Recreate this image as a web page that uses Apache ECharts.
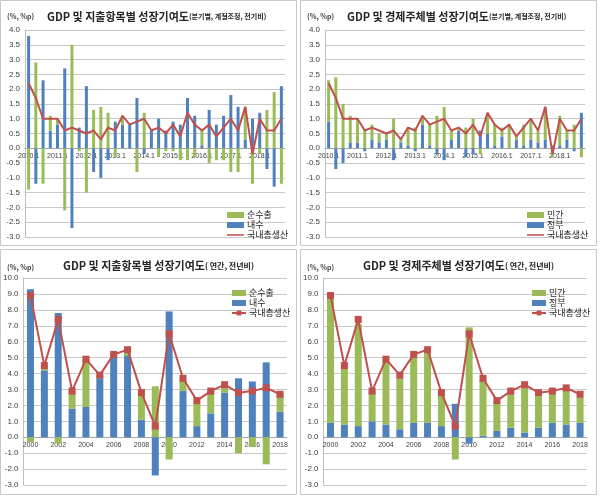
<!DOCTYPE html>
<html>
<head>
<meta charset="utf-8">
<script src="https://cdn.jsdelivr.net/npm/echarts@6/dist/echarts.min.js"></script>
<style>
    body { margin: 0; background: #fff; }
    .panel { position: absolute; width: 298px; height: 247px; }
</style>
</head>
<body>
<div class="panel" id="c1" style="left:0;top:0"></div>
<div class="panel" id="c2" style="left:300px;top:0"></div>
<div class="panel" id="c3" style="left:0;top:249px"></div>
<div class="panel" id="c4" style="left:300px;top:249px"></div>
<script>
    // 분기 라벨 (2010.1 ~ 2018.4)
    var quarters = [];
    for (var y = 2010; y <= 2018; y++) {
        for (var q = 1; q <= 4; q++) quarters.push(y + '.' + q);
    }
    var qDomestic = [3.8, -1.2, 2.3, 0.6, 0.8, 2.7, -2.7, 0.7, 2.1, -0.8, -1.0, -0.4, 0.9, 0.8, 0.8, 1.7, -0.2, 0.6, 1.0, 0.6, 0.9, 0.8, 1.7, 1.1, 0.1, 1.3, 0.8, 1.1, 1.8, 1.4, 0.3, 1.0, 1.2, -0.7, -1.3, 2.1];
    var qNetExport = [-1.4, 2.9, -1.2, 0.5, 0.2, -2.1, 3.5, -0.1, -1.5, 1.3, 1.4, 1.2, -0.3, 0.3, 0.0, -0.8, 1.2, 0.0, -0.3, -0.1, -0.1, -0.4, -0.4, -0.3, 0.5, -0.5, -0.4, -0.4, -0.8, -0.8, 1.1, -1.2, -0.2, 1.3, 1.9, -1.2];
    var qGov = [0.9, -0.7, -0.5, 0.2, 0.2, -0.1, 0.3, 0.2, 0.3, -0.4, 0.2, 0.1, -0.1, 0.8, 0.1, -0.2, -0.4, 0.3, 0.6, -0.3, -0.2, 0.6, 0.5, 0.1, 0.4, 0.0, 0.3, 0.1, 0.3, 0.2, 0.3, 0.1, 0.1, 0.3, -0.1, 1.2];
    var qPrivate = [1.4, 2.4, 1.5, 0.9, 0.8, 0.6, 0.5, 0.3, 0.2, 1.0, 0.1, 0.6, 0.7, 0.3, 0.7, 1.1, 1.4, 0.3, 0.1, 0.7, 1.0, -0.2, 0.7, 0.7, 0.3, 0.8, 0.1, 0.7, 0.7, 0.4, 1.1, -0.3, 1.0, 0.3, 0.8, -0.3];
    var qGdp = [2.2, 1.7, 1.0, 1.0, 1.0, 0.6, 0.7, 0.6, 0.5, 0.6, 0.3, 0.7, 0.6, 1.1, 0.8, 0.9, 1.0, 0.6, 0.7, 0.5, 0.8, 0.4, 1.2, 0.8, 0.6, 0.8, 0.4, 0.7, 1.0, 0.6, 1.4, -0.2, 1.0, 0.6, 0.6, 1.0];

    var years = ['2000', '2001', '2002', '2003', '2004', '2005', '2006', '2007', '2008', '2009', '2010', '2011', '2012', '2013', '2014', '2015', '2016', '2017', '2018'];
    var aDomestic = [9.3, 4.2, 7.8, 1.8, 1.9, 3.7, 5.0, 5.1, 1.1, -2.4, 7.9, 2.9, 0.7, 1.5, 2.8, 3.7, 3.5, 4.7, 1.6];
    var aNetExport = [-0.3, 0.3, -0.4, 1.1, 3.0, 0.2, 0.2, 0.4, 1.7, 3.2, -1.4, 0.7, 1.4, 1.4, 0.4, -1.0, -0.6, -1.7, 1.1];
    var aGov = [0.9, 0.8, 0.7, 1.0, 0.8, 0.5, 0.9, 0.9, 0.7, 2.1, -0.4, 0.1, 0.4, 0.6, 0.3, 0.6, 0.9, 0.8, 0.9];
    var aPrivate = [8.0, 3.6, 6.4, 1.9, 4.0, 3.2, 4.1, 4.4, 2.0, -1.4, 6.9, 3.5, 1.8, 2.2, 2.8, 2.1, 2.0, 2.2, 1.6];
    var aGdp = [8.9, 4.5, 7.4, 2.9, 4.9, 3.9, 5.2, 5.5, 2.8, 0.7, 6.5, 3.7, 2.3, 2.9, 3.3, 2.8, 2.9, 3.1, 2.7];

    var GREEN = '#9bbb59', BLUE = '#4f81bd', RED = '#c0504d';
    var CJK = '"Noto Sans CJK KR", sans-serif';
    // 선만 있는 범례 아이콘
    var LINE_ICON = 'path://M0,0L1,0L1,0.05L0,0.05Z M0,2.2L20,2.2L20,3.8L0,3.8Z M0,5.95L1,5.95L1,6L0,6Z';

    function makePanel(id, cfg) {
        var myChart = echarts.init(document.getElementById(id));
        var annual = cfg.annual;
        var yMin = -3, yMax = annual ? 10 : 4;
        var grid = annual ? {left: 23, top: 29, width: 264, height: 207}
                          : {left: 25, top: 30, width: 260, height: 207};
        var option = {
            animation: false,
            title: {
                left: annual ? 58 : 42,
                top: 6,
                text: '{a|' + cfg.title + '}{b|' + cfg.sub + '}',
                textStyle: {
                    rich: {
                        a: {fontFamily: CJK, fontSize: 11, fontWeight: 'bold', color: '#262626'},
                        b: {fontFamily: CJK, fontSize: annual ? 8 : 7, fontWeight: 'bold', color: '#262626'}
                    }
                }
            },
            graphic: [
                {type: 'rect', shape: {x: 0.5, y: 0.5, width: 296, height: 245},
                    style: {fill: 'none', stroke: '#c8c8c8', lineWidth: 1}},
                {type: 'text', left: 7, top: annual ? 15 : 13,
                    style: {text: '(%, %p)', fontSize: 7, fontWeight: 'bold', fill: '#404040', fontFamily: CJK}}
            ],
            legend: {
                orient: 'vertical',
                left: annual ? 226 : 222,
                top: annual ? 34 : 205,
                itemGap: 0,
                itemWidth: annual ? 14 : 17,
                itemHeight: 6,
                textStyle: {fontFamily: CJK, fontSize: 9, lineHeight: 10, color: '#262626', padding: [0, 0, 0, -2]},
                data: [
                    {name: cfg.names[1], icon: 'rect'},
                    {name: cfg.names[0], icon: 'rect'},
                    annual ? {name: '국내총생산'} : {name: '국내총생산', icon: LINE_ICON}
                ]
            },
            grid: grid,
            xAxis: {
                type: 'category',
                data: cfg.cats,
                // 가로축을 0 위치에 둔다
                offset: -grid.height * (0 - yMin) / (yMax - yMin),
                axisLine: {onZero: false, lineStyle: {color: '#a6a6a6'}},
                axisTick: {show: false},
                axisLabel: {
                    interval: annual ? 1 : 3,
                    fontSize: 7,
                    color: '#404040',
                    margin: 4
                }
            },
            yAxis: {
                type: 'value',
                min: yMin,
                max: yMax,
                interval: annual ? 1 : 0.5,
                axisLine: {show: true, lineStyle: {color: '#bfbfbf'}},
                axisLabel: {
                    fontSize: 8,
                    color: '#404040',
                    margin: 5,
                    formatter: function (v) { return v.toFixed(1); }
                },
                splitLine: {lineStyle: {color: '#c8c8c8'}}
            },
            series: [
                {
                    name: cfg.names[0],
                    type: 'bar',
                    stack: 'total',
                    barWidth: annual ? 7 : 3,
                    itemStyle: {color: BLUE},
                    data: cfg.blue
                },
                {
                    name: cfg.names[1],
                    type: 'bar',
                    stack: 'total',
                    barWidth: annual ? 7 : 3,
                    itemStyle: {color: GREEN},
                    data: cfg.green
                },
                {
                    name: '국내총생산',
                    type: 'line',
                    symbol: annual ? 'rect' : 'none',
                    symbolSize: 7,
                    itemStyle: {color: RED},
                    lineStyle: {color: RED, width: 2},
                    data: cfg.gdp
                }
            ]
        };
        option && myChart.setOption(option);
    }

    makePanel('c1', {annual: false, title: 'GDP 및 지출항목별 성장기여도', sub: '(분기별, 계절조정, 전기비)',
        cats: quarters, names: ['내수', '순수출'], blue: qDomestic, green: qNetExport, gdp: qGdp});
    makePanel('c2', {annual: false, title: 'GDP 및 경제주체별 성장기여도', sub: '(분기별, 계절조정, 전기비)',
        cats: quarters, names: ['정부', '민간'], blue: qGov, green: qPrivate, gdp: qGdp});
    makePanel('c3', {annual: true, title: 'GDP 및 지출항목별 성장기여도', sub: '( 연간, 전년비)',
        cats: years, names: ['내수', '순수출'], blue: aDomestic, green: aNetExport, gdp: aGdp});
    makePanel('c4', {annual: true, title: 'GDP 및 경제주체별 성장기여도', sub: '( 연간, 전년비)',
        cats: years, names: ['정부', '민간'], blue: aGov, green: aPrivate, gdp: aGdp});
</script>
</body>
</html>
